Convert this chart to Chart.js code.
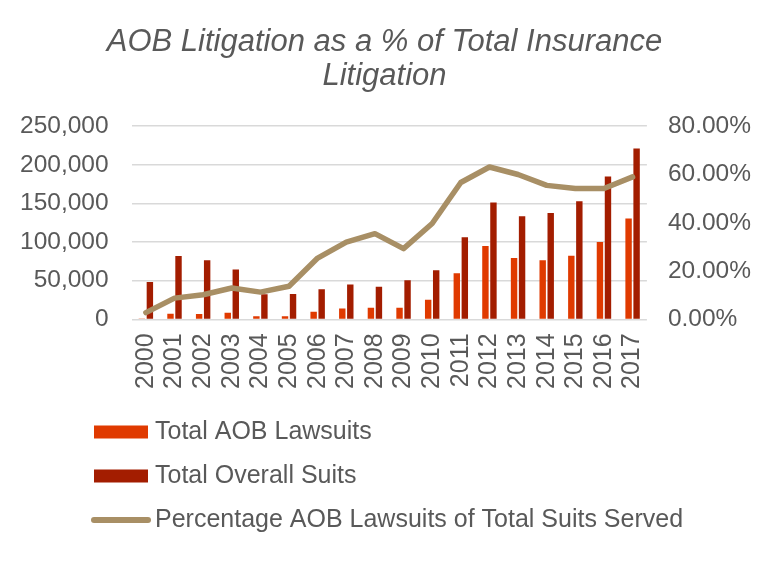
<!DOCTYPE html>
<html>
<head>
<meta charset="utf-8">
<title>AOB Litigation</title>
<script src="https://cdn.jsdelivr.net/npm/chart.js@4.4.1/dist/chart.umd.min.js"></script>
<style>
  html, body { margin: 0; padding: 0; background: #ffffff; }
  #wrap { width: 777px; height: 561px; }
</style>
</head>
<body>
<div id="wrap"><canvas id="aobChart"></canvas></div>
<script>
// Chart data
var years = ['2000', '2001', '2002', '2003', '2004', '2005', '2006', '2007', '2008',
             '2009', '2010', '2011', '2012', '2013', '2014', '2015', '2016', '2017'];
var aobLawsuits = [1300, 7400, 7000, 8700, 3900, 4200, 10000, 14200, 15100,
                   15100, 25500, 59600, 95000, 79400, 76400, 82500, 100100, 130400];
var overallSuits = [48300, 82000, 76400, 64400, 32500, 32800, 38900, 45300, 42300,
                    50500, 63500, 106200, 151100, 133400, 137700, 152800, 184800, 221100];
var aobPercent = [2.8, 8.8, 10.2, 13.0, 11.3, 13.7, 25.4, 32.0, 35.5,
                  29.3, 39.7, 56.7, 63.1, 60.0, 55.5, 54.2, 54.2, 59.0];
var seriesNames = ['Total AOB Lawsuits', 'Total Overall Suits', 'Percentage AOB Lawsuits of Total Suits Served'];
var titleLines = ['AOB Litigation as a % of Total Insurance', 'Litigation'];
var suitsAxis = { max: 250000, step: 50000 };
var percentAxis = { max: 80, step: 20 };

var fontFamily = '"Liberation Sans", Arial, Helvetica, sans-serif';
var textColor = '#595959';

// Legend drawn as a stacked list under the axis (the stock legend only wraps rows)
var stackedLegend = {
    id: 'stackedLegend',
    afterDraw: function(chart) {
        var ctx = chart.ctx;
        ctx.save();
        ctx.font = '25px ' + fontFamily;
        ctx.textBaseline = 'middle';
        ctx.textAlign = 'left';
        chart.data.datasets.forEach(function(ds, i) {
            var y = 432 + i * 44;
            if (ds.type === 'line') {
                ctx.strokeStyle = ds.borderColor;
                ctx.lineWidth = 6;
                ctx.lineCap = 'round';
                ctx.beginPath();
                ctx.moveTo(94, y);
                ctx.lineTo(148, y);
                ctx.stroke();
            } else {
                ctx.fillStyle = ds.backgroundColor;
                ctx.fillRect(94, y - 6.5, 54, 13);
            }
            ctx.fillStyle = textColor;
            ctx.fillText(ds.label, 155, y);
        });
        ctx.restore();
    }
};

document.addEventListener('DOMContentLoaded', function() {
    var ctx = document.getElementById('aobChart').getContext('2d');

    new Chart(ctx, {
        type: 'bar',
        data: {
            labels: years,
            datasets: [
                {
                    label: seriesNames[0],
                    data: aobLawsuits,
                    backgroundColor: '#E03A00',
                    yAxisID: 'y',
                    order: 1
                },
                {
                    label: seriesNames[1],
                    data: overallSuits,
                    backgroundColor: '#A31D00',
                    yAxisID: 'y',
                    order: 1
                },
                {
                    type: 'line',
                    label: seriesNames[2],
                    data: aobPercent,
                    borderColor: '#A88F65',
                    backgroundColor: '#A88F65',
                    borderWidth: 5.5,
                    pointRadius: 0,
                    borderJoinStyle: 'round',
                    borderCapStyle: 'round',
                    tension: 0,
                    fill: false,
                    yAxisID: 'y2',
                    order: 0
                }
            ]
        },
        options: {
            responsive: true,
            maintainAspectRatio: false,
            animation: false,
            categoryPercentage: 0.56,
            barPercentage: 0.8,
            layout: {
                padding: { left: -3, right: 5, top: 0, bottom: 158 }
            },
            scales: {
                x: {
                    grid: { display: false, drawTicks: false },
                    border: { display: false },
                    ticks: {
                        autoSkip: false,
                        minRotation: 90,
                        maxRotation: 90,
                        padding: 14,
                        color: textColor,
                        font: { family: fontFamily, size: 25 }
                    }
                },
                y: {
                    position: 'left',
                    min: 0,
                    max: suitsAxis.max,
                    grid: { color: '#d9d9d9', lineWidth: 1.5, drawTicks: false },
                    border: { display: false },
                    ticks: {
                        stepSize: suitsAxis.step,
                        padding: 23,
                        color: textColor,
                        font: { family: fontFamily, size: 24.5 }
                    }
                },
                y2: {
                    position: 'right',
                    min: 0,
                    max: percentAxis.max,
                    grid: { display: false, drawTicks: false },
                    border: { display: false },
                    ticks: {
                        stepSize: percentAxis.step,
                        padding: 21,
                        color: textColor,
                        font: { family: fontFamily, size: 24.5 },
                        callback: function(v) { return v.toFixed(2) + '%'; }
                    }
                }
            },
            plugins: {
                legend: { display: false },
                tooltip: { enabled: false },
                title: {
                    display: true,
                    text: titleLines,
                    color: textColor,
                    font: { family: fontFamily, size: 31, style: 'italic', weight: 'normal', lineHeight: 1.1 },
                    padding: { top: 25, bottom: 33 }
                }
            }
        },
        plugins: [stackedLegend]
    });
});
</script>
</body>
</html>
